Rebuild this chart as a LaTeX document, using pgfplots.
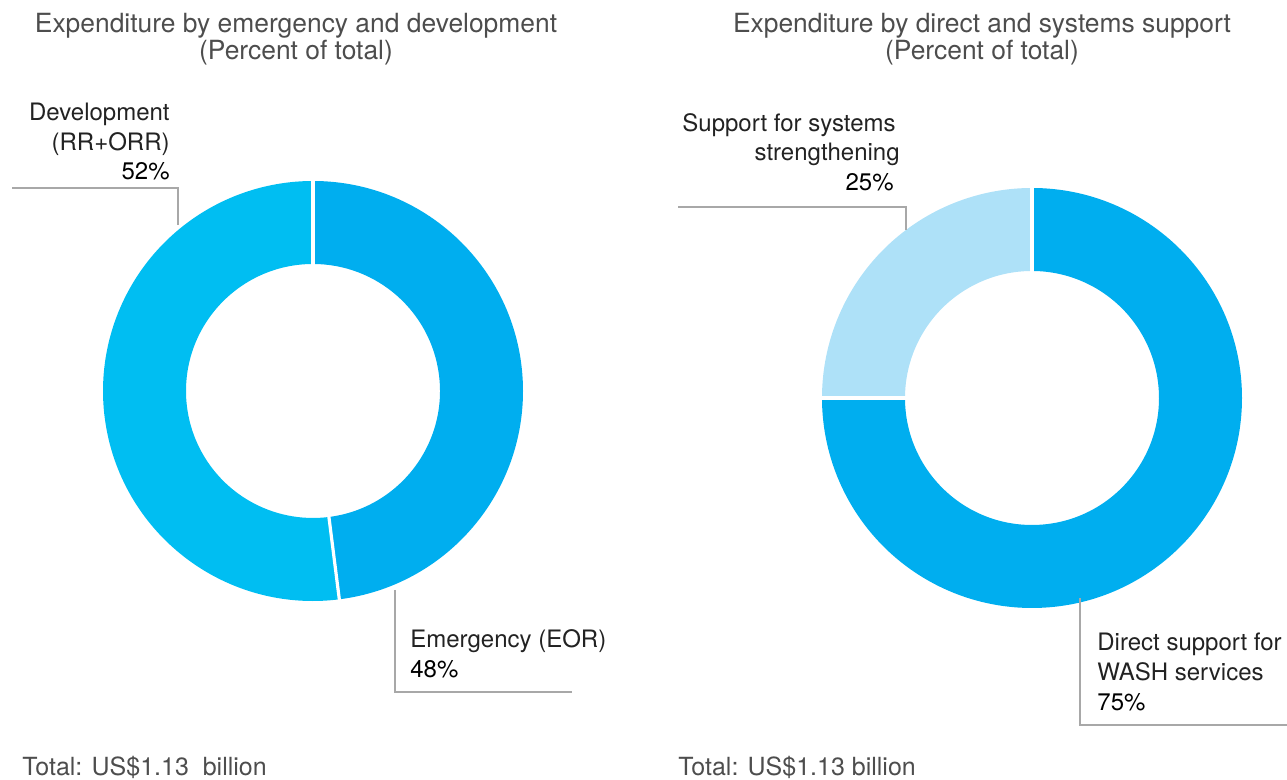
\documentclass[border=0pt]{standalone}
\usepackage{fontspec}
\setmainfont{TeX Gyre Heros}
\usepackage{pgfplots}
\pgfplotsset{compat=1.18}

\definecolor{emer}{HTML}{00AEEF}
\definecolor{devel}{HTML}{00BEF2}
\definecolor{sys}{HTML}{AEE1F8}
\definecolor{lead}{HTML}{A8A8A8}
\definecolor{ttl}{HTML}{4D4D4D}
\definecolor{lbl}{HTML}{222222}

% one donut slice: centre x, centre y, start (percent), share (percent), colour
\newcommand{\slice}[5]{%
  \fill[#5] (axis cs:{#1+210*cos(90-3.6*(#3))},{#2+210*sin(90-3.6*(#3))})
    arc[start angle={90-3.6*(#3)}, end angle={90-3.6*(#3+#4)}, radius=210]
    -- (axis cs:{#1+127*cos(90-3.6*(#3+#4))},{#2+127*sin(90-3.6*(#3+#4))})
    arc[start angle={90-3.6*(#3+#4)}, end angle={90-3.6*(#3)}, radius=127]
    -- cycle;
}
\newcommand{\gap}[3]{%
  \draw[white, line width=1.6pt]
    (axis cs:{#1+124*cos(90-3.6*(#3))},{#2+124*sin(90-3.6*(#3))})
    -- (axis cs:{#1+213*cos(90-3.6*(#3))},{#2+213*sin(90-3.6*(#3))});
}

\begin{document}
\begin{tikzpicture}
\begin{axis}[
  width=643.5pt, height=390pt, scale only axis,
  xmin=0, xmax=1287, ymin=0, ymax=780,
  hide axis, disabledatascaling, clip=false,
  nodes={inner sep=0pt},
]
  % left donut: emergency 48, development 52
  \slice{313}{389}{0}{48}{emer}
  \slice{313}{389}{48}{52}{devel}
  \gap{313}{389}{0}
  \gap{313}{389}{48}
  % right donut: direct 75, systems 25
  \slice{1032}{382}{0}{75}{emer}
  \slice{1032}{382}{75}{25}{sys}
  \gap{1032}{382}{0}
  \gap{1032}{382}{75}

  % leader lines
  \draw[lead, line width=0.6pt] (axis cs:12,592) -- (axis cs:178,592) -- (axis cs:178,555);
  \draw[lead, line width=0.6pt] (axis cs:395,190) -- (axis cs:395,88) -- (axis cs:572,88);
  \draw[lead, line width=0.6pt] (axis cs:678,573) -- (axis cs:906,573) -- (axis cs:906,550);
  \draw[lead, line width=0.6pt] (axis cs:1080,182) -- (axis cs:1080,55) -- (axis cs:1287,55);

  % titles
  \node[anchor=base, ttl, font=\fontsize{13.2}{15}\selectfont] at (axis cs:296,747) {Expenditure by emergency and development};
  \node[anchor=base, ttl, font=\fontsize{13.2}{15}\selectfont] at (axis cs:296,720) {(Percent of total)};
  \node[anchor=base, ttl, font=\fontsize{13.2}{15}\selectfont] at (axis cs:982,747) {Expenditure by direct and systems support};
  \node[anchor=base, ttl, font=\fontsize{13.2}{15}\selectfont] at (axis cs:982,720) {(Percent of total)};

  % slice labels
  \begin{scope}[font=\fontsize{12}{15}\selectfont]
  \node[anchor=base east, lbl] at (axis cs:170,659) {Development};
  \node[anchor=base east, lbl] at (axis cs:170,629) {(RR+ORR)};
  \node[anchor=base east, black] at (axis cs:170,600) {52\%};
  \node[anchor=base west, lbl] at (axis cs:410,132) {Emergency (EOR)};
  \node[anchor=base west, black] at (axis cs:410,102) {48\%};
  \node[anchor=base east, lbl] at (axis cs:896,648) {Support for systems};
  \node[anchor=base east, lbl] at (axis cs:900,619) {strengthening};
  \node[anchor=base east, black] at (axis cs:894,589) {25\%};
  \node[anchor=base west, lbl] at (axis cs:1097,129) {Direct support for};
  \node[anchor=base west, lbl] at (axis cs:1097,99) {WASH services};
  \node[anchor=base west, black] at (axis cs:1097,69) {75\%};
  \end{scope}

  % totals
  \node[anchor=base west, ttl, font=\fontsize{12.5}{15}\selectfont] at (axis cs:22,4) {Total: US\$1.13\ \ billion};
  \node[anchor=base west, ttl, font=\fontsize{12.5}{15}\selectfont] at (axis cs:678,4) {Total: US\$1.13 billion};
\end{axis}
\pgfresetboundingbox
\path[use as bounding box] (current axis.south west) rectangle (current axis.north east);
\end{tikzpicture}
\end{document}
